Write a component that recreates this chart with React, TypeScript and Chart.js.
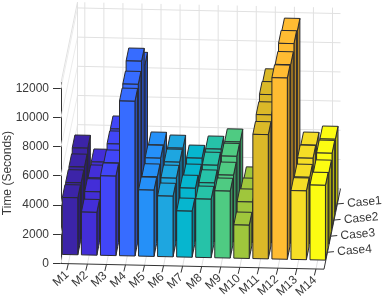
import React, { useEffect, useRef } from "react";
import { Chart, registerables } from "chart.js";

Chart.register(...registerables);

const categories = ["M1", "M2", "M3", "M4", "M5", "M6", "M7", "M8", "M9", "M10", "M11", "M12", "M13", "M14"];
const caseNames = ["Case1", "Case2", "Case3", "Case4"];
const case1 = [4030, 3100, 5390, 9800, 4350, 4170, 3510, 4160, 4680, 2100, 8850, 12350, 4570, 5010];
const case2 = [3840, 3110, 5470, 11180, 4560, 4315, 3315, 4160, 4800, 2440, 9080, 12610, 4780, 5150];
const case3 = [3860, 3270, 5270, 10700, 4380, 4320, 3660, 4050, 4610, 2800, 8800, 12270, 4580, 4900];
const case4 = [3940, 2970, 5480, 10640, 4575, 4190, 3190, 4040, 4620, 2315, 8550, 12460, 4750, 5160];
const columnColors = ["#3c24a8", "#432ed8", "#4146f8", "#376cff", "#2590f8", "#1ea6e0", "#06b6cf", "#26c2a8", "#4fcb82", "#9fc63c", "#dbb928", "#ffbc32", "#f5dd26", "#fcfc12"];
const yTickValues = [0, 2000, 4000, 6000, 8000, 10000, 12000];
const yMax = 12400;

const DEPTH_X = 16.5;
const DEPTH_Y = 80.5;
const TILT = 0.0215;
const X_SHIFT = -2.2;
const CASE_FRONT = [0.706, 0.506, 0.306, 0.106];
const BAR_DEPTH = 0.16;
const TEXT = "#3a3a3a";
const FONT = "12px 'Liberation Sans', Arial, sans-serif";

function shade(hex: string, k: number) {
  const n = parseInt(hex.slice(1), 16);
  const c = [(n >> 16) & 255, (n >> 8) & 255, n & 255].map((v) => Math.round(v * k));
  return `rgb(${c[0]},${c[1]},${c[2]})`;
}

const bars3d = {
  id: "bars3d",
  beforeDatasetsDraw(chart: any) {
    const { ctx, chartArea } = chart;
    const xs = chart.scales.x;
    const ys = chart.scales.y;
    const left = chartArea.left;
    const width = chartArea.right - chartArea.left - 3.7;
    const right = left + width;
    const zero = ys.getPixelForValue(0);
    const top = ys.getPixelForValue(yMax);
    const P = (px: number, py: number, f: number): [number, number] => [
      px + f * DEPTH_X,
      py - f * DEPTH_Y + TILT * (px - left),
    ];
    const seg = (a: [number, number], b: [number, number]) => {
      ctx.beginPath();
      ctx.moveTo(a[0], a[1]);
      ctx.lineTo(b[0], b[1]);
      ctx.stroke();
    };

    ctx.save();
    // walls and floor grid
    ctx.lineWidth = 1;
    ctx.strokeStyle = "#ececec";
    yTickValues.forEach((v) => {
      const y = ys.getPixelForValue(v);
      seg(P(left, y, 0), P(left, y, 1));
    });
    ctx.strokeStyle = "#e1e1e1";
    yTickValues.forEach((v) => {
      const y = ys.getPixelForValue(v);
      seg(P(left, y, 1), P(right, y, 1));
    });
    categories.forEach((_, i) => {
      const x = xs.getPixelForValue(i) + X_SHIFT;
      seg(P(x, zero, 0), P(x, zero, 1));
      seg(P(x, zero, 1), P(x, top, 1));
    });
    caseNames.forEach((_, c) => {
      const f = CASE_FRONT[c] + 0.104;
      seg(P(left, zero, f), P(right, zero, f));
    });
    seg(P(left, zero, 1), P(left, top, 1));
    seg(P(left, top, 0), P(left, top, 1));
    seg(P(left, zero, 1), P(right, zero, 1));

    // front and depth axes
    ctx.strokeStyle = "#333333";
    seg(P(left, zero, 0), P(right, zero, 0));
    seg(P(right, zero, 0), P(right, zero, 1));
    categories.forEach((name, i) => {
      const x = xs.getPixelForValue(i) + X_SHIFT;
      const a = P(x, zero, 0);
      const b: [number, number] = [a[0] - 1.6, a[1] + 6.5];
      seg(a, b);
      ctx.save();
      ctx.translate(b[0] + 0.5, b[1] + 3);
      ctx.rotate((-42 * Math.PI) / 180);
      ctx.font = FONT;
      ctx.fillStyle = TEXT;
      ctx.textAlign = "right";
      ctx.textBaseline = "middle";
      ctx.fillText(name, 0, 0);
      ctx.restore();
    });
    caseNames.forEach((name, c) => {
      const a = P(right, zero, CASE_FRONT[c] + 0.104);
      seg(a, [a[0] + 6.5, a[1] - 0.6]);
      ctx.save();
      ctx.translate(a[0] + 9.8, a[1] - 0.2);
      ctx.rotate((-5 * Math.PI) / 180);
      ctx.font = FONT;
      ctx.fillStyle = TEXT;
      ctx.textAlign = "left";
      ctx.textBaseline = "middle";
      ctx.fillText(name, 0, 0);
      ctx.restore();
    });

    // bars, back row first
    ctx.strokeStyle = "#2a2a2e";
    ctx.lineJoin = "round";
    chart.data.datasets.forEach((ds: any, c: number) => {
      const elements = chart.getDatasetMeta(c).data;
      for (let i = elements.length - 1; i >= 0; i--) {
        const el = elements[i];
        const color = ds.backgroundColor[i];
        const x0 = el.x - el.width / 2 + X_SHIFT;
        const x1 = el.x + el.width / 2 + X_SHIFT;
        const f0 = CASE_FRONT[c];
        const f1 = f0 + BAR_DEPTH;
        const poly = (pts: [number, number][], fill: string) => {
          ctx.beginPath();
          pts.forEach((p, k) => (k ? ctx.lineTo(p[0], p[1]) : ctx.moveTo(p[0], p[1])));
          ctx.closePath();
          ctx.fillStyle = fill;
          ctx.fill();
          ctx.stroke();
        };
        poly([P(x1, el.base, f0), P(x1, el.base, f1), P(x1, el.y, f1), P(x1, el.y, f0)], shade(color, 0.72));
        poly([P(x0, el.y, f0), P(x1, el.y, f0), P(x1, el.y, f1), P(x0, el.y, f1)], color);
        poly([P(x0, el.base, f0), P(x1, el.base, f0), P(x1, el.y, f0), P(x0, el.y, f0)], color);
      }
    });
    ctx.restore();
    return false;
  },
};

export default function App() {
  const ref = useRef<HTMLCanvasElement>(null);
  useEffect(() => {
    document.body.style.margin = "0";
    const series = [case1, case2, case3, case4];
    const chart = new Chart(ref.current as HTMLCanvasElement, {
      type: "bar",
      data: {
        labels: categories,
        datasets: series.map((data, c) => ({
          label: caseNames[c],
          data,
          backgroundColor: columnColors,
          grouped: false,
          barPercentage: 0.81,
          categoryPercentage: 1,
        })),
      },
      plugins: [bars3d],
      options: {
        animation: false,
        responsive: false,
        layout: { padding: { left: 0, right: 54.3, top: 82.6, bottom: 34.5 } },
        plugins: { legend: { display: false }, tooltip: { enabled: false } },
        scales: {
          x: { display: false, offset: true },
          y: {
            min: 0,
            max: yMax,
            afterFit: (s: any) => {
              s.width = 61;
            },
            afterBuildTicks: (s: any) => {
              s.ticks = yTickValues.map((value) => ({ value }));
            },
            title: {
              display: true,
              text: "Time (Seconds)",
              color: TEXT,
              padding: 0,
              font: { family: "'Liberation Sans', Arial, sans-serif", size: 12 },
            },
            border: { display: true, color: "#333333", width: 1 },
            grid: { drawOnChartArea: false, tickLength: 8, color: "#333333" },
            ticks: {
              autoSkip: false,
              padding: 4,
              color: TEXT,
              callback: (v: any) => String(v),
              font: { family: "'Liberation Sans', Arial, sans-serif", size: 12 },
            },
          },
        },
      },
    } as any);
    return () => chart.destroy();
  }, []);
  return <canvas ref={ref} width={382} height={298} style={{ display: "block", width: 382, height: 298 }} />;
}
